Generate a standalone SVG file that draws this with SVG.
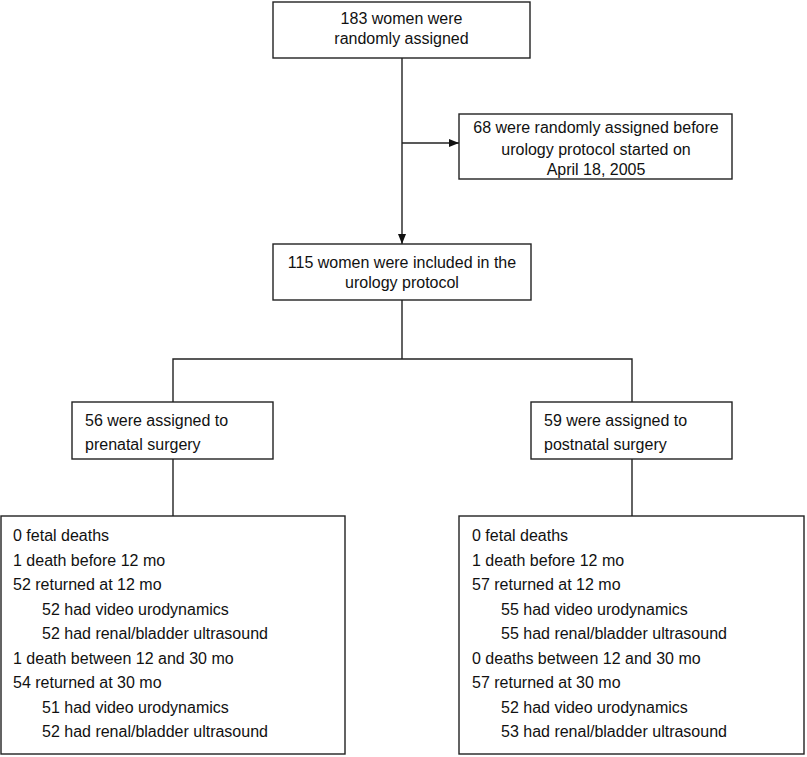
<svg xmlns="http://www.w3.org/2000/svg" width="807" height="757" viewBox="0 0 807 757">
<style>
.box{fill:#fff;stroke:#222;stroke-width:1.4}
.ln{fill:none;stroke:#222;stroke-width:1.4}
text{font-family:"Liberation Sans",Arial,sans-serif;font-size:16px;fill:#111}
.c{text-anchor:middle}
</style>
<defs>
<marker id="ah" viewBox="0 0 10 10" refX="10" refY="5" markerWidth="10" markerHeight="10" markerUnits="userSpaceOnUse" orient="auto">
<path d="M0,1 L10,5 L0,9 Z" fill="#111"/>
</marker>
</defs>
<rect width="807" height="757" fill="#fff"/>
<g id="connectors">
<path class="ln" d="M402,58 V244" marker-end="url(#ah)"/>
<path class="ln" d="M402,143 H459" marker-end="url(#ah)"/>
<path class="ln" d="M402,300 V359 M173,402 V359 H632 V402"/>
<path class="ln" d="M173,459 V516"/>
<path class="ln" d="M632,459 V516"/>
</g>
<g id="n183">
<rect class="box" x="273" y="2" width="257" height="56"/>
<text class="c" x="401.5" y="24">183 women were</text>
<text class="c" x="401.5" y="44">randomly assigned</text>
</g>
<g id="n68">
<rect class="box" x="459" y="114" width="273" height="65"/>
<text class="c" x="596" y="133">68 were randomly assigned before</text>
<text class="c" x="596" y="155">urology protocol started on</text>
<text class="c" x="596" y="175">April 18, 2005</text>
</g>
<g id="n115">
<rect class="box" x="273" y="244" width="258" height="56"/>
<text class="c" x="402" y="268">115 women were included in the</text>
<text class="c" x="402" y="288">urology protocol</text>
</g>
<g id="n56">
<rect class="box" x="72" y="402" width="201" height="57"/>
<text x="85" y="426">56 were assigned to</text>
<text x="85" y="450">prenatal surgery</text>
</g>
<g id="n59">
<rect class="box" x="531" y="402" width="201" height="57"/>
<text x="544" y="426">59 were assigned to</text>
<text x="544" y="450">postnatal surgery</text>
</g>
<g id="prenatalOutcomes">
<rect class="box" x="1" y="516" width="344" height="238"/>
<text x="13" y="541">0 fetal deaths</text>
<text x="13" y="565.5">1 death before 12 mo</text>
<text x="13" y="590">52 returned at 12 mo</text>
<text x="42" y="614.5">52 had video urodynamics</text>
<text x="42" y="639">52 had renal/bladder ultrasound</text>
<text x="13" y="663.5">1 death between 12 and 30 mo</text>
<text x="13" y="688">54 returned at 30 mo</text>
<text x="42" y="712.5">51 had video urodynamics</text>
<text x="42" y="737">52 had renal/bladder ultrasound</text>
</g>
<g id="postnatalOutcomes">
<rect class="box" x="459" y="516" width="345" height="238"/>
<text x="472" y="541">0 fetal deaths</text>
<text x="472" y="565.5">1 death before 12 mo</text>
<text x="472" y="590">57 returned at 12 mo</text>
<text x="501" y="614.5">55 had video urodynamics</text>
<text x="501" y="639">55 had renal/bladder ultrasound</text>
<text x="472" y="663.5">0 deaths between 12 and 30 mo</text>
<text x="472" y="688">57 returned at 30 mo</text>
<text x="501" y="712.5">52 had video urodynamics</text>
<text x="501" y="737">53 had renal/bladder ultrasound</text>
</g>
</svg>
